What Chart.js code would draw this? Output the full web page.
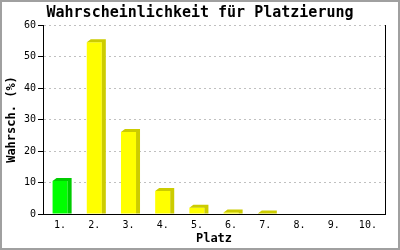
<!DOCTYPE html>
<html>
<head>
<meta charset="utf-8">
<script src="https://cdn.jsdelivr.net/npm/chart.js@4"></script>
<style>
  html, body { margin: 0; padding: 0; background: #fff; }
  canvas { display: block; }
</style>
</head>
<body>
<canvas id="chart" width="400" height="250"></canvas>
<script>
// data
const places = ['1.', '2.', '3.', '4.', '5.', '6.', '7.', '8.', '9.', '10.'];
const probabilities = [10.5, 54.5, 26, 7.3, 2, 0.5, 0.15, 0, 0, 0];
const yTicks = [0, 10, 20, 30, 40, 50, 60];

const FONT = "'DejaVu Sans Mono', 'Liberation Mono', monospace";
const frontColors = places.map((p, i) => i === 0 ? '#00ff00' : '#ffff00');
const shadeColors = places.map((p, i) => i === 0 ? '#00cc00' : '#cccc00');

// white background + grey frame around the picture
const frame = {
  id: 'frame',
  beforeDraw(chart) {
    const ctx = chart.ctx;
    ctx.save();
    ctx.fillStyle = '#fff';
    ctx.fillRect(0, 0, chart.width, chart.height);
    ctx.strokeStyle = '#a0a0a0';
    ctx.lineWidth = 2;
    ctx.strokeRect(1, 1, chart.width - 2, chart.height - 2);
    ctx.restore();
  }
};

// fake 3d: top and right faces on every bar
const bars3d = {
  id: 'bars3d',
  afterDatasetsDraw(chart) {
    const ctx = chart.ctx;
    const dx = 4, dy = 3;
    chart.getDatasetMeta(0).data.forEach((bar, i) => {
      if (!probabilities[i]) return;
      const {x, y, base, width} = bar.getProps(['x', 'y', 'base', 'width'], true);
      const l = x - width / 2, r = x + width / 2;
      ctx.save();
      ctx.fillStyle = shadeColors[i];
      ctx.beginPath();
      ctx.moveTo(l, y);
      ctx.lineTo(l + dx, y - dy);
      ctx.lineTo(r + dx, y - dy);
      ctx.lineTo(r + dx, base);
      ctx.lineTo(r, base);
      ctx.lineTo(r, y);
      ctx.closePath();
      ctx.fill();
      ctx.restore();
    });
  }
};

new Chart(document.getElementById('chart'), {
  type: 'bar',
  data: {
    labels: places,
    datasets: [{
      data: probabilities,
      backgroundColor: frontColors,
      borderWidth: 0,
      barPercentage: 0.44,
      categoryPercentage: 1
    }]
  },
  options: {
    responsive: false,
    animation: false,
    layout: { padding: 0 },
    plugins: {
      legend: { display: false },
      tooltip: { enabled: false },
      title: {
        display: true,
        text: 'Wahrscheinlichkeit für Platzierung',
        color: '#000',
        font: { family: FONT, size: 15, weight: 'bold' },
        padding: { top: 4, bottom: 3 }
      }
    },
    scales: {
      x: {
        grid: { display: false, drawTicks: false },
        border: { display: true, color: '#000', width: 1 },
        ticks: { color: '#000', font: { family: FONT, size: 10 }, padding: 5 },
        title: {
          display: true, text: 'Platz', color: '#000',
          font: { family: FONT, size: 12, weight: 'bold' },
          padding: { top: 0, bottom: 4 }
        },
        afterFit: s => { s.height = 36; }
      },
      y: {
        min: 0, max: 60,
        afterBuildTicks: s => { s.ticks = yTicks.map(v => ({ value: v })); },
        grid: {
          color: c => c.tick && c.tick.value === 0 ? 'rgba(0,0,0,0)' : '#c0c0c0',
          tickColor: '#000', tickLength: 5, tickBorderDash: []
        },
        border: { display: true, color: '#000', width: 1, dash: [2, 3] },
        ticks: { color: '#000', font: { family: FONT, size: 10 }, padding: 2 },
        title: {
          display: true, text: 'Wahrsch. (%)', color: '#000',
          font: { family: FONT, size: 12, weight: 'bold' },
          padding: { top: 5, bottom: 0 }
        },
        afterFit: s => { s.width = 43; }
      },
      y2: {
        position: 'right',
        min: 0, max: 60,
        grid: { display: false, drawTicks: false },
        ticks: { display: false },
        border: { display: true, color: '#000', width: 1 },
        afterFit: s => { s.width = 15; }
      }
    }
  },
  plugins: [frame, bars3d]
});
</script>
</body>
</html>
